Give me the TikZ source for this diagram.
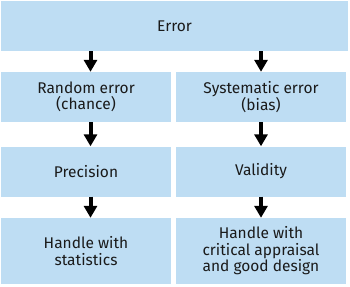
\documentclass[tikz,border=0pt]{standalone}
\usepackage{fontspec}
\setmainfont{Fira Sans}
\usetikzlibrary{arrows.meta, positioning}
\definecolor{boxblue}{HTML}{BEDDF3}
\definecolor{inkgray}{HTML}{1A1A1A}

\begin{document}
\begin{tikzpicture}[x=1pt, y=-1pt,
	box/.style={fill=boxblue, inner sep=0pt, align=center, text=inkgray,
		font=\fontsize{15.5}{16.5}\selectfont, minimum width=170pt, minimum height=50pt},
	flow/.style={line width=4pt, -{Triangle[width=13pt, length=12pt]}}]
	% 画布
	\useasboundingbox (0,0) rectangle (350,286);
	
	% 顶层
	\node[box, minimum width=347pt] (err) at (174.5,26) {Error};
	
	% 两列方框
	\node[box] (rand) at (86,97) {Random error\\(chance)};
	\node[box] (sys) at (261,97) {Systematic error\\(bias)};
	\node[box] (prec) at (86,171.5) {Precision};
	\node[box] (valid) at (261,171.5) {Validity};
	\node[box, minimum height=66pt] (stat) at (86,251) {Handle with\\statistics};
	\node[box, minimum height=66pt] (design) at (261,251) {Handle with\\critical appraisal\\and good design};
	
	% 箭头
	\draw[flow] ([xshift=4.5pt]rand.north |- err.south) -- ([xshift=4.5pt]rand.north);
	\draw[flow] (sys.north |- err.south) -- (sys.north);
	\draw[flow] ([xshift=4.5pt]rand.south) -- ([xshift=4.5pt]prec.north);
	\draw[flow] (sys.south) -- (valid.north);
	\draw[flow] ([xshift=4.5pt]prec.south) -- ([xshift=4.5pt]stat.north);
	\draw[flow] (valid.south) -- (design.north);
\end{tikzpicture}
\end{document}
